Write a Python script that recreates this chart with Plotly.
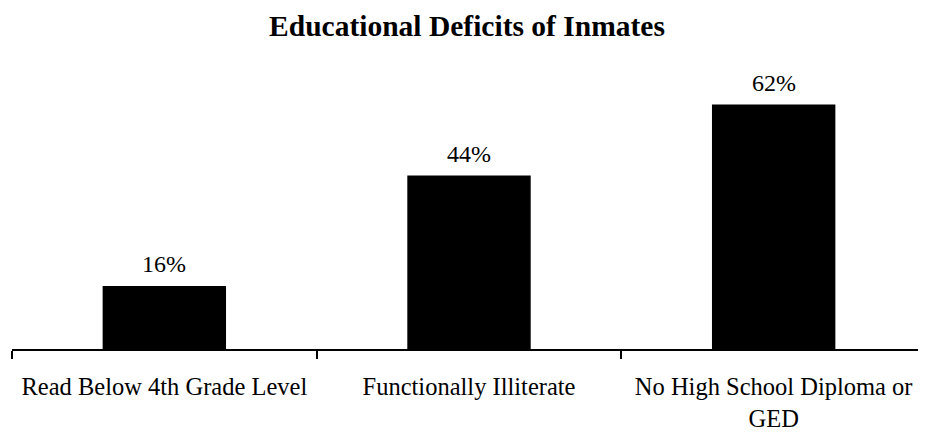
import plotly.graph_objects as go

categories = ["Read Below 4th Grade Level", "Functionally Illiterate", "No High School Diploma or<br>GED"]
values = [16, 44, 62]
labels = ["16%", "44%", "62%"]

FONT = "Liberation Serif"

fig = go.Figure(go.Bar(
    x=categories, y=values,
    marker=dict(color="black", line=dict(width=0)),
    width=0.405,
))
for c, v, t in zip(categories, values, labels):
    fig.add_annotation(x=c, y=v, text=t, showarrow=False, yanchor="bottom",
                       yshift=7, font=dict(family=FONT, size=24, color="black"))

fig.update_layout(
    width=918, height=424,
    margin=dict(l=4, r=0, t=65, b=79),
    paper_bgcolor="white", plot_bgcolor="white",
    title=dict(text="<b>Educational Deficits of Inmates</b>", x=0.5, xanchor="center",
               y=1 - 18/424, yanchor="middle",
               font=dict(family=FONT, size=29.5, color="black")),
    font=dict(family=FONT, size=24, color="black"),
    showlegend=False,
)
fig.update_xaxes(showline=True, linecolor="black", linewidth=2,
                 ticks="outside", tickson="boundaries", ticklen=8, tickwidth=2, tickcolor="black",
                 ticklabelstandoff=15,
                 tickfont=dict(family=FONT, size=24.5, color="black"),
                 showgrid=False)
fig.update_yaxes(visible=False, range=[0, 70], showgrid=False)
fig.write_html("out.html")
